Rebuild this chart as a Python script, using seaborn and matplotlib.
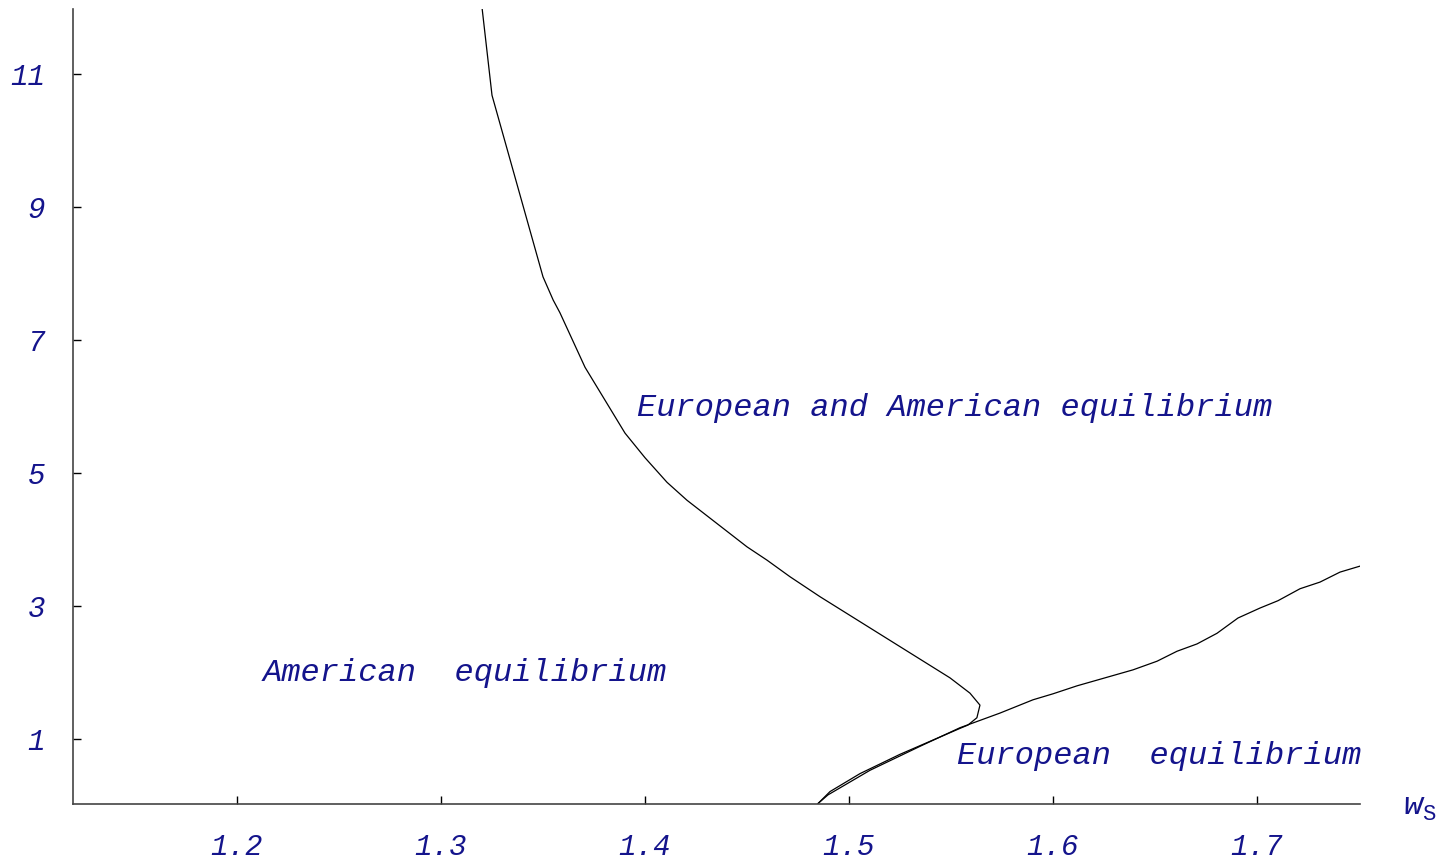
import pandas as pd
import matplotlib.pyplot as plt
import seaborn as sns

# boundary of the American equilibrium region (comes down from the top, turns back near w_s=1.56)
american_ws = [1.3201, 1.325, 1.350, 1.355, 1.3583, 1.3706, 1.3902, 1.400, 1.4108, 1.4206,
               1.450, 1.4598, 1.4711, 1.4858, 1.5495, 1.5593, 1.5642, 1.5627, 1.5583, 1.5544,
               1.525, 1.5054, 1.4907, 1.4848]
american_y = [12.0, 10.68, 7.95, 7.60, 7.41, 6.59, 5.60, 5.23, 4.86, 4.59,
              3.89, 3.69, 3.44, 3.14, 1.92, 1.69, 1.51, 1.32, 1.21, 1.16,
              0.77, 0.48, 0.21, 0.03]

# boundary of the European equilibrium region
european_ws = [1.4848, 1.4897, 1.5103, 1.5348, 1.5544, 1.574, 1.5902, 1.600, 1.6118, 1.6392,
               1.651, 1.6608, 1.6706, 1.6804, 1.6907, 1.7015, 1.7103, 1.7211, 1.7309, 1.7407,
               1.7505]
european_y = [0.03, 0.16, 0.53, 0.89, 1.17, 1.39, 1.59, 1.68, 1.80, 2.04,
              2.17, 2.32, 2.43, 2.59, 2.82, 2.97, 3.08, 3.26, 3.36, 3.51,
              3.60]

x_ticks = [1.2, 1.3, 1.4, 1.5, 1.6, 1.7]
y_ticks = [1, 3, 5, 7, 9, 11]

region_labels = ["European and American equilibrium", "American  equilibrium", "European  equilibrium"]
label_x = [1.396, 1.2127, 1.5529]
label_y = [5.98, 1.99, 0.74]

navy = "#14148c"
mono = ["Liberation Mono", "DejaVu Sans Mono"]

sns.set_style("ticks")
plt.rcParams["font.family"] = mono

fig = plt.figure(figsize=(14.41, 8.63), dpi=100)
ax = fig.add_axes([73 / 1441, 59 / 863, (1360 - 73) / 1441, (804 - 9.5) / 863])

df_am = pd.DataFrame({"ws": american_ws, "y": american_y})
df_eu = pd.DataFrame({"ws": european_ws, "y": european_y})
sns.lineplot(data=df_am, x="ws", y="y", sort=False, estimator=None, color="black", lw=0.9, ax=ax)
sns.lineplot(data=df_eu, x="ws", y="y", sort=False, estimator=None, color="black", lw=0.9, ax=ax)

ax.set_xlim(1.1196, 1.7505)
ax.set_ylim(0.023, 11.97)
ax.set_xticks(x_ticks)
ax.set_yticks(y_ticks)
ax.set_xticklabels([f"{t:.1f}" for t in x_ticks], fontstyle="italic", fontsize=21, color=navy)
ax.set_yticklabels([str(t) for t in y_ticks], fontstyle="italic", fontsize=21, color=navy)
ax.set_xlabel("")
ax.set_ylabel("")
ax.tick_params(axis="x", direction="in", length=6, width=1, color="black", pad=21)
ax.tick_params(axis="y", direction="in", length=6, width=1, color="black", pad=20)

sns.despine(ax=ax)
for side in ["left", "bottom"]:
    ax.spines[side].set_color("#444444")
    ax.spines[side].set_linewidth(1.2)

for txt, tx, ty in zip(region_labels, label_x, label_y):
    ax.text(tx, ty, txt, fontstyle="italic", fontsize=23, color=navy, va="center", ha="left")

# axis name w_S outside the plot on the right
ax.text(1.7716, 0.0, "w", fontstyle="italic", fontsize=23, color=navy, va="center", ha="left", clip_on=False)
ax.text(1.7809, -0.14, "S", fontsize=16, color=navy, va="center", ha="left", clip_on=False)

fig.savefig("out.png", dpi=100)
